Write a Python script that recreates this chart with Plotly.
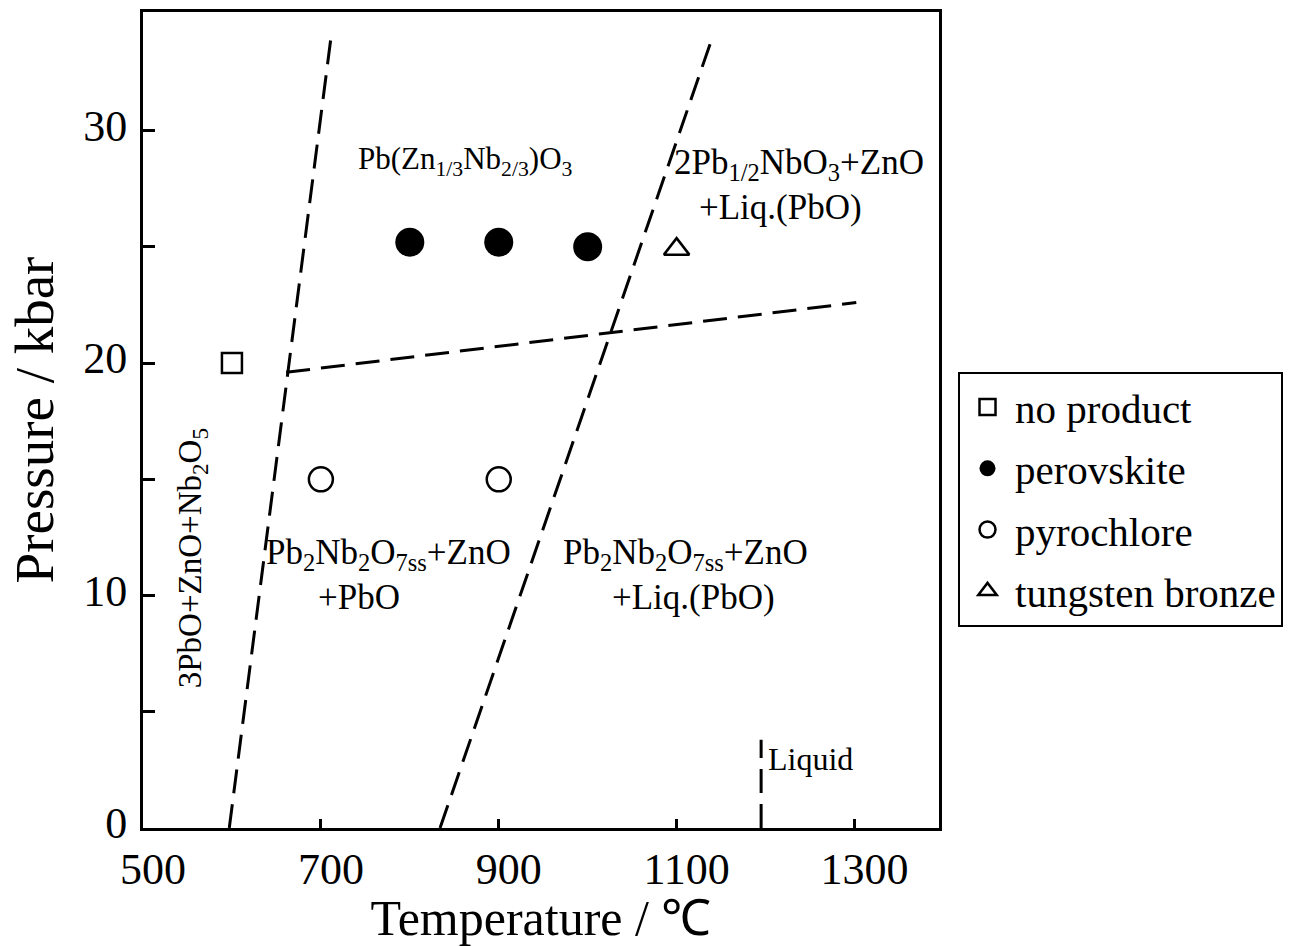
import plotly.graph_objects as go

# ---- data ----
no_product_T = [600]
no_product_P = [20.0]
perovskite_T = [800, 900, 1000]
perovskite_P = [25.2, 25.2, 25.0]
pyrochlore_T = [700, 900]
pyrochlore_P = [15.0, 15.0]
tungsten_T = [1100]
tungsten_P = [24.9]

bound_left_T = [597, 712]
bound_left_P = [0, 34.2]
bound_right_T = [834, 1141]
bound_right_P = [0, 34.1]
bound_mid_T = [661, 1302]
bound_mid_P = [19.6, 22.6]
liquid_T = [1195, 1195]
liquid_P = [0, 3.8]

x_ticks = [500, 700, 900, 1100, 1300]
x_tick_labels = ["500", "700", "900", "1100", "1300"]
y_ticks = [0, 10, 20, 30]

SERIF = "Liberation Serif, Times New Roman, serif"
DASH = "24px,11px"

fig = go.Figure()

for tx, py in [(bound_left_T, bound_left_P), (bound_right_T, bound_right_P),
               (bound_mid_T, bound_mid_P), (liquid_T, liquid_P)]:
    fig.add_trace(go.Scatter(x=tx, y=py, mode="lines", showlegend=False,
                             line=dict(color="black", width=3, dash=DASH),
                             hoverinfo="skip"))

fig.add_trace(go.Scatter(x=no_product_T, y=no_product_P, mode="markers", name="no product",
                         legendgroup="a",
                         marker=dict(symbol="square-open", size=20, color="black",
                                     line=dict(width=2.5, color="black"))))
fig.add_trace(go.Scatter(x=perovskite_T, y=perovskite_P, mode="markers", name="perovskite",
                         legendgroup="b",
                         marker=dict(symbol="circle", size=29, color="black",
                                     line=dict(width=0))))
fig.add_trace(go.Scatter(x=pyrochlore_T, y=pyrochlore_P, mode="markers", name="pyrochlore",
                         legendgroup="c",
                         marker=dict(symbol="circle-open", size=24, color="black",
                                     line=dict(width=2.5, color="black"))))
fig.add_trace(go.Scatter(x=tungsten_T, y=tungsten_P, mode="markers", name="tungsten bronze",
                         legendgroup="d",
                         marker=dict(symbol="triangle-up-open", size=22, color="black",
                                     line=dict(width=2.5, color="black"))))

ann_font = dict(family=SERIF, size=35, color="black")
annotations = [
    dict(x=1238, y=28.55, text="2Pb<sub>1/2</sub>NbO<sub>3</sub>+ZnO"),
    dict(x=1217, y=26.7, text="+Liq.(PbO)"),
    dict(x=776, y=11.75, text="Pb<sub>2</sub>Nb<sub>2</sub>O<sub>7ss</sub>+ZnO"),
    dict(x=743, y=9.9, text="+PbO"),
    dict(x=1110, y=11.75, text="Pb<sub>2</sub>Nb<sub>2</sub>O<sub>7ss</sub>+ZnO"),
    dict(x=1119, y=9.9, text="+Liq.(PbO)"),
]
for a in annotations:
    fig.add_annotation(x=a["x"], y=a["y"], text=a["text"], showarrow=False,
                       xref="x", yref="y", font=ann_font)
fig.add_annotation(x=862, y=28.7, text="Pb(Zn<sub>1/3</sub>Nb<sub>2/3</sub>)O<sub>3</sub>",
                   showarrow=False, xref="x", yref="y",
                   font=dict(family=SERIF, size=31, color="black"))
fig.add_annotation(x=555, y=11.6, text="3PbO+ZnO+Nb<sub>2</sub>O<sub>5</sub>", showarrow=False,
                   textangle=-90, xref="x", yref="y",
                   font=dict(family=SERIF, size=33, color="black"))
fig.add_annotation(x=1200, y=2.95, text="Liquid", showarrow=False, xanchor="left",
                   xref="x", yref="y", font=dict(family=SERIF, size=32, color="black"))

fig.update_layout(
    width=1294, height=946,
    margin=dict(l=143, r=354, t=12, b=118),
    paper_bgcolor="white", plot_bgcolor="white",
    font=dict(family=SERIF, color="black"),
    showlegend=True,
    legend=dict(x=1.0226, y=0.559, xanchor="left", yanchor="top",
                bordercolor="black", borderwidth=2,
                font=dict(family=SERIF, size=41, color="black"),
                tracegroupgap=5, itemsizing="trace", itemwidth=45),
    xaxis=dict(range=[500, 1395], tickvals=x_ticks, ticktext=x_tick_labels,
               ticks="inside", ticklen=9, tickwidth=2.5, tickcolor="black",
               showline=True, linewidth=3, linecolor="black", mirror=True,
               showgrid=False, zeroline=False, automargin=False,
               tickfont=dict(family=SERIF, size=44, color="black"),
               ticklabelstandoff=0, ticklabelshift=10,
               title=dict(text="Temperature / ℃", standoff=16,
                          font=dict(family=SERIF, size=50, color="black"))),
    yaxis=dict(range=[0, 35.1], tickvals=y_ticks, ticktext=[str(v) for v in y_ticks],
               ticks="inside", ticklen=12, tickwidth=2.5, tickcolor="black",
               minor=dict(tickvals=[5, 15, 25], ticks="inside", ticklen=12,
                          tickwidth=2.5, tickcolor="black", showgrid=False),
               showline=True, linewidth=3, linecolor="black", mirror=True,
               showgrid=False, zeroline=False, automargin=False,
               tickfont=dict(family=SERIF, size=44, color="black"),
               ticklabelstandoff=4, ticklabelshift=-5,
               title=dict(text="Pressure / kbar", standoff=12,
                          font=dict(family=SERIF, size=55, color="black"))),
)

fig.write_html("out.html")
